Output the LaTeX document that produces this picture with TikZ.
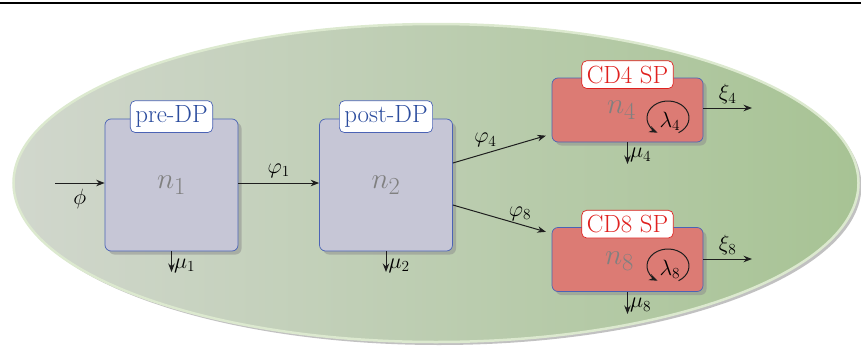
\documentclass[tikz,border=0pt]{standalone}
\usetikzlibrary{arrows.meta,shapes.geometric,shadows}

\definecolor{edgeblue}{HTML}{4B63B5}
\definecolor{titleblue}{HTML}{2B4C9E}
\definecolor{titlered}{HTML}{E0211F}
\definecolor{stagefill}{HTML}{C6C6D6}
\definecolor{spfill}{HTML}{DC7B74}
\definecolor{cellleft}{HTML}{D1D7CD}
\definecolor{cellright}{HTML}{A7C394}
\definecolor{cellrim}{HTML}{DCE9CF}
\definecolor{popgray}{HTML}{808080}
\definecolor{ink}{HTML}{1E1E1E}

\tikzset{
  cell/.style={ellipse, inner sep=0pt, draw=cellrim, line width=2.5pt,
    left color=cellleft, right color=cellright,
    drop shadow={shadow xshift=3pt, shadow yshift=-3pt, fill=black!30, opacity=0.8}},
  stagebox/.style={rectangle, rounded corners=6pt, draw=edgeblue, line width=0.7pt,
    inner sep=0pt,
    drop shadow={shadow xshift=3.5pt, shadow yshift=-3.5pt, fill=black!45, opacity=0.5}},
  dpbox/.style={stagebox, fill=stagefill, minimum width=133pt, minimum height=132pt},
  spbox/.style={stagebox, fill=spfill, minimum width=151pt, minimum height=64pt},
  titlebox/.style={rectangle, rounded corners=5pt, fill=white, line width=0.7pt,
    inner xsep=5pt, inner ysep=5pt, font=\Huge},
  bluetitle/.style={titlebox, draw=edgeblue, text=titleblue},
  redtitle/.style={titlebox, draw=titlered, text=titlered},
  popsize/.style={text=popgray, inner sep=0pt, font=\Huge, scale=1.18},
  rate/.style={inner sep=1.5pt, font=\LARGE, scale=1.28},
  flow/.style={draw=ink, line width=1pt, -{Stealth[length=8.5pt, width=6.5pt]}},
}

\begin{document}
\begin{tikzpicture}[x=1pt, y=-1pt]
\useasboundingbox (0,0) rectangle (861,348);

% rule along the top edge
\draw[line width=1.4pt] (0,3) -- (861,3);

% enclosing compartment
\node[cell, minimum width=845pt, minimum height=318pt] (thymus) at (436,183) {};

% double-positive stages
\node[dpbox] (n1) at (171.5,185) {};
\node[dpbox] (n2) at (386,185) {};
\node[popsize] (n1lab) at (n1.center) {$n_1$};
\node[popsize] (n2lab) at (n2.center) {$n_2$};
\node[bluetitle] (t1) at ([yshift=2pt]n1.north) {pre-DP};
\node[bluetitle] (t2) at ([yshift=2pt]n2.north) {post-DP};

% single-positive stages
\node[spbox] (cd4) at (627.5,110) {};
\node[spbox] (cd8) at (627.5,259.5) {};
\node[popsize] (n4lab) at ([xshift=-6pt]cd4.center) {$n_4$};
\node[popsize] (n8lab) at ([xshift=-8pt, yshift=-2pt]cd8.center) {$n_8$};
\node[redtitle] (t4) at ([yshift=3pt]cd4.north) {CD4 SP};
\node[redtitle] (t8) at ([yshift=3pt]cd8.north) {CD8 SP};

% proliferation loops
\coordinate (l4) at (668,118);
\coordinate (l8) at (668,266);
\node[rate] (lam4) at (670,121) {$\lambda_4$};
\node[rate] (lam8) at (670,269) {$\lambda_8$};
\draw[flow] ([shift={(-60:21pt and 17pt)}]l4) arc[start angle=-60, end angle=240, x radius=21pt, y radius=17pt];
\draw[flow] ([shift={(-60:21pt and 17pt)}]l8) arc[start angle=-60, end angle=240, x radius=21pt, y radius=17pt];

% influx and transitions
\coordinate (src) at (55,183);
\draw[flow] (src) -- (src -| n1.west) node[rate, midway, below=3pt] (phi) {$\phi$};
\draw[flow] ([yshift=2pt]n1.east) -- ([yshift=2pt]n2.west)
  node[rate, midway, above=2pt] (phi1) {$\varphi_1$};
\draw[flow, shorten >=6pt] ([yshift=22pt]n2.east) -- ([yshift=-24pt]cd4.west)
  node[rate, pos=0.33, above=3pt] (phi4) {$\varphi_4$};
\draw[flow, shorten >=6pt] ([yshift=-20pt]n2.east) -- ([yshift=26pt]cd8.west)
  node[rate, pos=0.68, above=1pt] (phi8) {$\varphi_8$};

% export out of the compartment
\coordinate (x4) at (752,108);
\coordinate (x8) at (752,259);
\draw[flow] (cd4.east |- x4) -- (x4) node[rate, midway, above=1pt] (xi4) {$\xi_4$};
\draw[flow] (cd8.east |- x8) -- (x8) node[rate, midway, above=1pt] (xi8) {$\xi_8$};

% death
\coordinate (d1) at (171.5,272);
\coordinate (d2) at (386,272);
\coordinate (d4) at (627.5,164);
\coordinate (d8) at (627.5,314);
\draw[flow] (n1.south) -- (d1) node[rate, pos=0.7, right=0pt] (mu1) {$\mu_1$};
\draw[flow] (n2.south) -- (d2) node[rate, pos=0.7, right=0pt] (mu2) {$\mu_2$};
\draw[flow] (cd4.south) -- (d4) node[rate, pos=0.6, right=0pt] (mu4) {$\mu_4$};
\draw[flow] (cd8.south) -- (d8) node[rate, pos=0.6, right=0pt] (mu8) {$\mu_8$};
\end{tikzpicture}
\end{document}
